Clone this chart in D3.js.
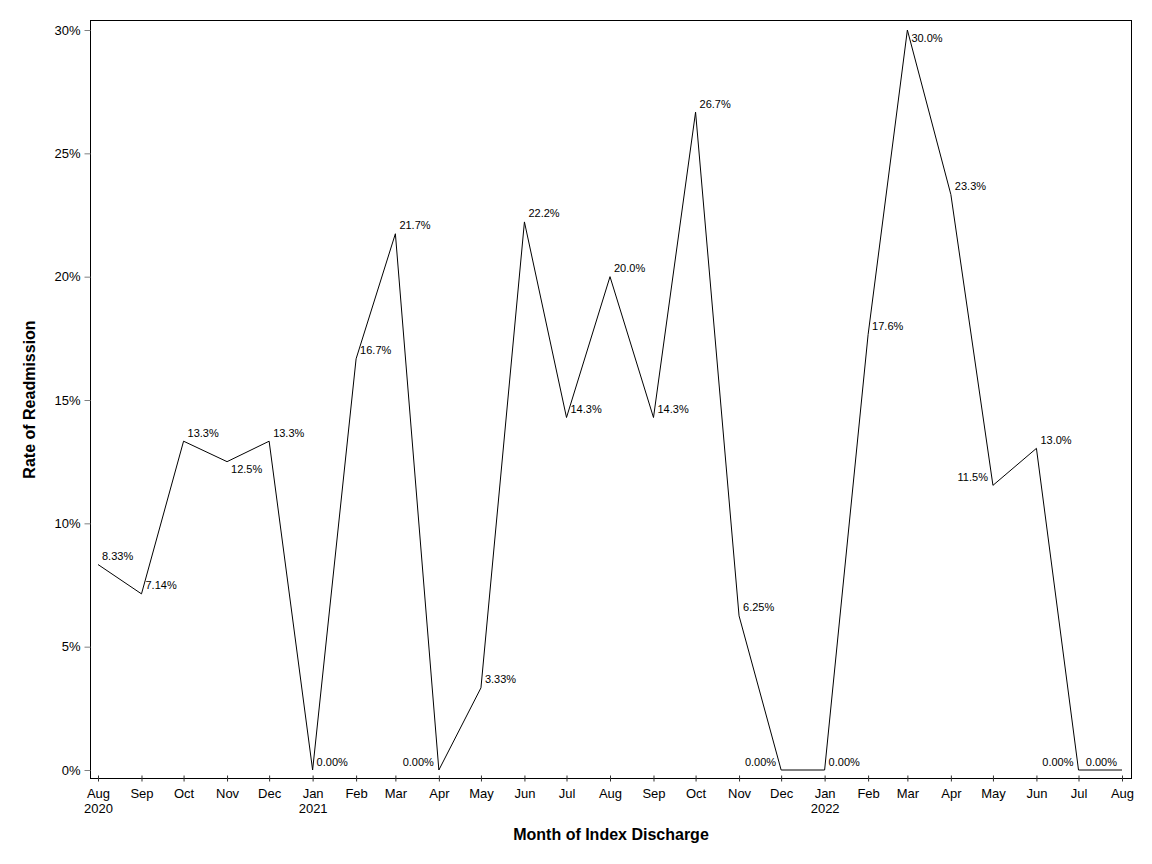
<!DOCTYPE html>
<html>
<head>
<meta charset="utf-8">
<script src="https://cdn.jsdelivr.net/npm/d3@7"></script>
<style>
  body { margin: 0; background: #fff; }
  svg text { font-family: "Liberation Sans", Arial, sans-serif; fill: #000; }
</style>
</head>
<body>
<svg width="1152" height="864"></svg>
<script>
// ---- data: monthly readmission rate (%) by month of index discharge ----
const months = ["2020-08","2020-09","2020-10","2020-11","2020-12",
                "2021-01","2021-02","2021-03","2021-04","2021-05","2021-06","2021-07",
                "2021-08","2021-09","2021-10","2021-11","2021-12",
                "2022-01","2022-02","2022-03","2022-04","2022-05","2022-06","2022-07","2022-08"];
const rates = [8.33, 7.14, 13.33, 12.5, 13.33,
               0, 16.67, 21.74, 0, 3.33, 22.22, 14.29,
               20.0, 14.29, 26.67, 6.25, 0,
               0, 17.65, 30.0, 23.33, 11.54, 13.04, 0, 0];
const yTicks = [0, 5, 10, 15, 20, 25, 30];

// where each point label sits (NE = right/above, SE = right/below, NW = left/above)
const labelAnchor = ["NE","NE","NE","SE","NE",
                     "NE","NE","NE","NW","NE","NE","NE",
                     "NE","NE","NE","NE","NW",
                     "NE","NE","SE","NE","NW","NE","NW","NW"];

const parse = d3.timeParse("%Y-%m");
const data = months.map((m, i) => ({date: parse(m), value: rates[i], anchor: labelAnchor[i]}));

const svg = d3.select("svg");
const frame = {left: 90.5, right: 1131.5, top: 20.5, bottom: 778.5};

const x = d3.scaleTime()
  .domain(d3.extent(data, d => d.date))
  .range([98, 1122]);
const y = d3.scaleLinear()
  .domain([0, 30])
  .range([770, 30]);

// frame
svg.append("rect")
  .attr("x", frame.left).attr("y", frame.top)
  .attr("width", frame.right - frame.left)
  .attr("height", frame.bottom - frame.top)
  .attr("fill", "none").attr("stroke", "#000").attr("stroke-width", 1);

// y axis
const yAxis = svg.append("g").attr("transform", `translate(${frame.left},0)`)
  .call(d3.axisLeft(y).tickValues(yTicks).tickSize(6).tickPadding(4).tickFormat(d => d + "%"));
yAxis.select(".domain").remove();
yAxis.selectAll(".tick line").attr("stroke", "#808080");
yAxis.selectAll(".tick text").attr("font-size", 13).attr("font-family", null);

// x axis
const xAxis = svg.append("g").attr("transform", `translate(0,${frame.bottom})`)
  .call(d3.axisBottom(x).tickValues(data.map(d => d.date)).tickSize(3).tickFormat(""));
xAxis.select(".domain").remove();
xAxis.selectAll(".tick line").attr("y1", -3).attr("y2", 3).attr("stroke", "#333");
const xt = xAxis.selectAll(".tick");
xt.append("text")
  .attr("y", 19).attr("text-anchor", "middle").attr("font-size", 13)
  .text(d => d3.timeFormat("%b")(d));
xt.filter((d, i) => i === 0 || d.getMonth() === 0)
  .append("text")
  .attr("y", 34.5).attr("text-anchor", "middle").attr("font-size", 13)
  .text(d => d3.timeFormat("%Y")(d));

// axis titles
svg.append("text")
  .attr("x", (frame.left + frame.right) / 2).attr("y", 840)
  .attr("text-anchor", "middle").attr("font-size", 16).attr("font-weight", "bold")
  .text("Month of Index Discharge");
svg.append("text")
  .attr("transform", `translate(35,${(frame.top + frame.bottom) / 2}) rotate(-90)`)
  .attr("text-anchor", "middle").attr("font-size", 16).attr("font-weight", "bold")
  .text("Rate of Readmission");

// line
const line = d3.line().x(d => x(d.date)).y(d => y(d.value));
svg.append("path")
  .datum(data)
  .attr("d", line)
  .attr("fill", "none").attr("stroke", "#000").attr("stroke-width", 1);

// point labels
const fmt = d3.format(".3r");
svg.append("g").selectAll("text")
  .data(data)
  .join("text")
  .attr("font-size", 11)
  .attr("x", d => x(d.date) + (d.anchor[1] === "E" ? 4 : -5))
  .attr("y", d => y(d.value) + (d.anchor[0] === "N" ? -4.5 : 11.5))
  .attr("text-anchor", d => d.anchor[1] === "E" ? "start" : "end")
  .text(d => fmt(d.value) + "%");
</script>
</body>
</html>
